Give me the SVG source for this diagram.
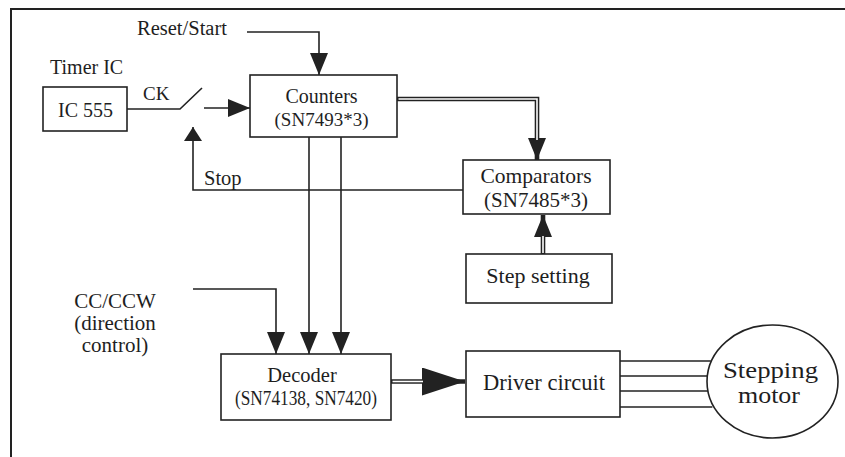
<svg xmlns="http://www.w3.org/2000/svg" width="845" height="457" viewBox="0 0 845 457">
<style>
text{font-family:"Liberation Serif","Times New Roman",serif;fill:#1e1e1e}
.box{fill:none;stroke:#222;stroke-width:1.6}
.ln{fill:none;stroke:#222;stroke-width:1.6}
.dbl{fill:none;stroke:#222;stroke-width:4.6;stroke-linejoin:miter}
.dblin{fill:none;stroke:#fff;stroke-width:1.6;stroke-linejoin:miter}
.c{text-anchor:middle}
</style>
<defs>
<marker id="arr" markerUnits="userSpaceOnUse" viewBox="0 0 22 18" refX="22" refY="9" markerWidth="22" markerHeight="18" orient="auto">
<path d="M0,0 L22,9 L0,18 Z" fill="#222"/>
</marker>
<marker id="arrS" markerUnits="userSpaceOnUse" viewBox="0 0 14 18" refX="14" refY="9" markerWidth="14" markerHeight="18" orient="auto">
<path d="M0,0 L14,9 L0,18 Z" fill="#222"/>
</marker>
<marker id="big" markerUnits="userSpaceOnUse" viewBox="0 0 43 28" refX="43" refY="14" markerWidth="43" markerHeight="28" orient="auto">
<path d="M0,0 L43,14 L0,28 Z" fill="#222"/>
</marker>
</defs>
<rect width="845" height="457" fill="#fff"/>
<path d="M11,457 V9 H845" fill="none" stroke="#222" stroke-width="2"/>

<g id="labels">
<text x="137" y="35" font-size="20.5">Reset/Start</text>
<text x="50" y="74" font-size="20">Timer IC</text>
<text x="143" y="100" font-size="19">CK</text>
<text x="204" y="185" font-size="20.5">Stop</text>
<text class="c" x="115" y="308" font-size="21">CC/CCW</text>
<text class="c" x="115" y="330" font-size="21">(direction</text>
<text class="c" x="115" y="352" font-size="21">control)</text>
</g>

<g id="connectors">
<path class="ln" d="M247,32 H319 V75" marker-end="url(#arr)"/>
<path class="ln" d="M127,109 H180 L202,88"/>
<path class="ln" d="M204,108 H250" marker-end="url(#arr)"/>
<path class="ln" d="M463,190 H193 V127" marker-end="url(#arrS)"/>
<path class="ln" d="M193,289 H276 V354" marker-end="url(#arr)"/>
<path class="ln" d="M309,137 V354" marker-end="url(#arr)"/>
<path class="ln" d="M341,137 V354" marker-end="url(#arr)"/>
<path class="dbl" d="M397,99 H537 V160" marker-end="url(#arr)"/>
<path class="dblin" d="M398.5,99 H537 V140"/>
<path class="dbl" d="M543,254 V215" marker-end="url(#arr)"/>
<path class="dblin" d="M543,253 V236"/>
<path class="dbl" d="M391,381.5 H465" marker-end="url(#big)"/>
<path class="dblin" d="M392.5,381.5 H423"/>
<path class="ln" d="M620,361 H710.8"/>
<path class="ln" d="M620,376 H707.6"/>
<path class="ln" d="M620,391 H708.0"/>
<path class="ln" d="M620,407 H712.4"/>
</g>

<g id="ic555">
<rect class="box" x="43" y="87" width="84" height="44"/>
<text x="58" y="117" font-size="20">IC 555</text>
</g>

<g id="counters">
<rect class="box" x="250" y="75" width="147" height="62"/>
<text class="c" x="321.5" y="103" font-size="20">Counters</text>
<text class="c" x="321.5" y="126" font-size="19">(SN7493*3)</text>
</g>

<g id="comparators">
<rect class="box" x="463" y="160" width="147" height="54"/>
<text class="c" x="536" y="183" font-size="21.5">Comparators</text>
<text class="c" x="536" y="207" font-size="21">(SN7485*3)</text>
</g>

<g id="step-setting">
<rect class="box" x="466" y="254" width="146" height="49"/>
<text class="c" x="538" y="283" font-size="22">Step setting</text>
</g>

<g id="decoder">
<rect class="box" x="221" y="354" width="170" height="66"/>
<text class="c" x="302" y="382" font-size="20.5">Decoder</text>
<text class="c" x="306" y="405" font-size="20" textLength="142" lengthAdjust="spacingAndGlyphs">(SN74138, SN7420)</text>
</g>

<g id="driver">
<rect class="box" x="466" y="351" width="154" height="66"/>
<text class="c" x="544" y="390" font-size="22.5">Driver circuit</text>
</g>

<g id="motor">
<ellipse class="box" cx="772.5" cy="381.5" rx="65.5" ry="56.5"/>
<text class="c" x="770.5" y="378" font-size="23" textLength="95" lengthAdjust="spacingAndGlyphs">Stepping</text>
<text class="c" x="769" y="403" font-size="23" textLength="62" lengthAdjust="spacingAndGlyphs">motor</text>
</g>
</svg>
